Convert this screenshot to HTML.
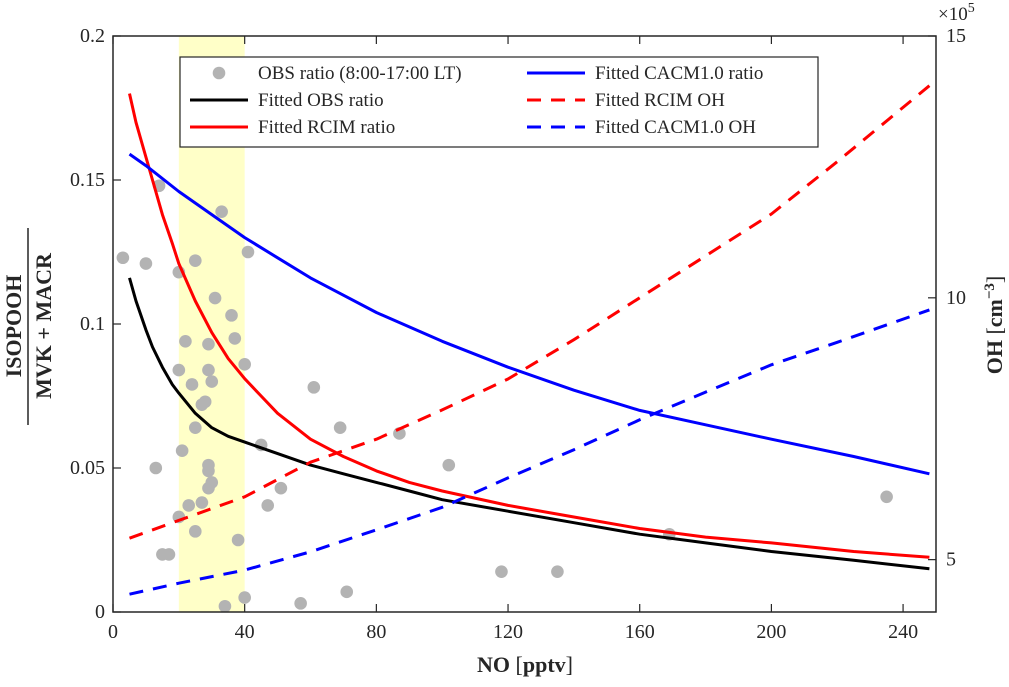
<!DOCTYPE html>
<html><head><meta charset="utf-8"><style>
html,body{margin:0;padding:0;background:#fff;}
svg text{font-family:"Liberation Serif",serif;fill:#262626;}
</style></head><body>
<svg id="chart" width="1009" height="682" viewBox="0 0 1009 682" xmlns="http://www.w3.org/2000/svg">
<g id="plot"></g>
</svg>
<script>
const noCats=[3,10,14,20,25,33,41,31,36,37,22,29,40,20,29,24,30,28,27,61,25,69,87,45,21,13,29,29,30,29,51,47,102,23,27,20,25,38,15,17,169,235,118,135,71,57,34,40];
const obsRatio=[0.123,0.121,0.148,0.118,0.122,0.139,0.125,0.109,0.103,0.095,0.094,0.093,0.086,0.084,0.084,0.079,0.080,0.073,0.072,0.078,0.064,0.064,0.062,0.058,0.056,0.050,0.051,0.049,0.045,0.043,0.043,0.037,0.051,0.037,0.038,0.033,0.028,0.025,0.020,0.020,0.027,0.040,0.014,0.014,0.007,0.003,0.002,0.005];
const fitObsX=[5,7,10,12,15,18,20,25,30,35,40,50,60,70,80,90,100,120,140,160,180,200,225,248];
const fitObsY=[0.116,0.108,0.098,0.092,0.085,0.079,0.076,0.069,0.064,0.061,0.059,0.055,0.051,0.048,0.045,0.042,0.039,0.035,0.031,0.027,0.024,0.021,0.018,0.015];
const fitRcimX=[5,7,10,12,15,18,20,25,30,35,40,45,50,60,70,80,90,100,120,140,160,180,200,225,248];
const fitRcimY=[0.180,0.170,0.158,0.150,0.138,0.128,0.121,0.108,0.097,0.088,0.081,0.075,0.069,0.060,0.054,0.049,0.045,0.042,0.037,0.033,0.029,0.026,0.024,0.021,0.019];
const fitCacmX=[5,10,20,30,40,50,60,70,80,90,100,120,140,160,180,200,225,248];
const fitCacmY=[0.159,0.155,0.146,0.138,0.130,0.123,0.116,0.110,0.104,0.099,0.094,0.085,0.077,0.070,0.065,0.060,0.054,0.048];
const ohX=[5,20,40,60,80,100,120,140,160,180,200,220,248];
const rcimOH=[5.41,5.75,6.2,6.86,7.3,7.86,8.45,9.2,10.0,10.8,11.6,12.6,14.05];
const cacmOH=[4.34,4.55,4.8,5.15,5.57,6.0,6.56,7.1,7.67,8.2,8.72,9.15,9.77];
const xTicks=[0,40,80,120,160,200,240];
const yTicks=[0,0.05,0.1,0.15,0.2];
const yTickLabels=["0","0.05","0.1","0.15","0.2"];
const y2Ticks=[5,10,15];

const L=113,R=936,T=36,B=612;
const xs=v=>L+(v-0)*(R-L)/250;
const ys=v=>B-v*(B-T)/0.2;
const ys2=v=>B-(v-4)*(B-T)/11;
const NS="http://www.w3.org/2000/svg";
const g=document.getElementById('plot');
function mk(tag,attrs,parent){const e=document.createElementNS(NS,tag);for(const k in attrs)e.setAttribute(k,attrs[k]);(parent||g).appendChild(e);return e;}

let e=mk('rect',{x:xs(20),y:T,width:xs(40)-xs(20),height:B-T,fill:'#ffffc8'});



noCats.forEach((n,i)=>{const c=mk('circle',{cx:xs(n),cy:ys(obsRatio[i]),r:6.3,fill:'#b3b3b3'});

});

function line(xa,ya,scale,color,dash,name){
  const p=xa.map((x,i)=>xs(x).toFixed(1)+','+scale(ya[i]).toFixed(1)).join(' ');
  const l=mk('polyline',{points:p,fill:'none',stroke:color,'stroke-width':3,'stroke-linejoin':'round','stroke-dasharray':dash||'none'});
  
  
}
line(fitObsX,fitObsY,ys,'#000',null,'fitted-obs-ratio-line');
line(fitRcimX,fitRcimY,ys,'#f00',null,'fitted-rcim-ratio-line');
line(fitCacmX,fitCacmY,ys,'#00f',null,'fitted-cacm-ratio-line');
line(ohX,rcimOH,ys2,'#f00','14,10','fitted-rcim-oh-line');
line(ohX,cacmOH,ys2,'#00f','14,10','fitted-cacm-oh-line');

e=mk('rect',{x:L,y:T,width:R-L,height:B-T,fill:'none',stroke:'#262626','stroke-width':1.5});



xTicks.forEach(t=>{const x=xs(t);
 mk('line',{x1:x,y1:B,x2:x,y2:B-8,stroke:'#262626','stroke-width':1.2});
 mk('line',{x1:x,y1:T,x2:x,y2:T+8,stroke:'#262626','stroke-width':1.2});
 const tx=mk('text',{x:x,y:B+26,'text-anchor':'middle','font-size':20});tx.textContent=t;
 
 });
yTicks.forEach((t,i)=>{const y=ys(t);
 mk('line',{x1:L,y1:y,x2:L+8,y2:y,stroke:'#262626','stroke-width':1.2});
 const tx=mk('text',{x:L-8,y:y+6,'text-anchor':'end','font-size':20});tx.textContent=yTickLabels[i];
 
 });
y2Ticks.forEach(t=>{const y=ys2(t);
 mk('line',{x1:R,y1:y,x2:R-8,y2:y,stroke:'#262626','stroke-width':1.2});
 const tx=mk('text',{x:R+10,y:y+6,'font-size':20});tx.textContent=t;
 
 });
</script>
<svg style="position:absolute;left:0;top:0" width="1009" height="682">
<text x="525" y="672" text-anchor="middle" font-size="22"><tspan font-weight="bold">NO</tspan> [<tspan font-weight="bold">pptv</tspan>]</text>
<text x="938" y="20" font-size="19">×10<tspan dy="-8" font-size="14">5</tspan></text>
<g>
<text transform="translate(21,326) rotate(-90)" text-anchor="middle" font-size="22" font-weight="bold">ISOPOOH</text>
<line x1="28" y1="228" x2="28" y2="425" stroke="#262626" stroke-width="1.5"/>
<text transform="translate(51,326) rotate(-90)" text-anchor="middle" font-size="22" font-weight="bold">MVK + MACR</text>
</g>
<text transform="translate(1002,325) rotate(-90)" text-anchor="middle" font-size="22"><tspan font-weight="bold">OH</tspan> [<tspan font-weight="bold">cm</tspan><tspan dy="-8" font-size="15" font-weight="bold">−3</tspan><tspan dy="8">]</tspan></text>
<g>
<rect x="180" y="57" width="638" height="90" fill="#fff" stroke="#262626" stroke-width="1.2"/>
<g><circle cx="219" cy="73" r="6.3" fill="#b3b3b3"/><text x="258" y="79" font-size="19">OBS ratio (8:00-17:00 LT)</text></g>
<g><line x1="190" y1="100" x2="248" y2="100" stroke="#000" stroke-width="3"/><text x="258" y="106" font-size="19">Fitted OBS ratio</text></g>
<g><line x1="190" y1="127" x2="248" y2="127" stroke="#f00" stroke-width="3"/><text x="258" y="133" font-size="19">Fitted RCIM ratio</text></g>
<g><line x1="527" y1="73" x2="585" y2="73" stroke="#00f" stroke-width="3"/><text x="595" y="79" font-size="19">Fitted CACM1.0 ratio</text></g>
<g><line x1="527" y1="100" x2="585" y2="100" stroke="#f00" stroke-width="3" stroke-dasharray="14,10"/><text x="595" y="106" font-size="19">Fitted RCIM OH</text></g>
<g><line x1="527" y1="127" x2="585" y2="127" stroke="#00f" stroke-width="3" stroke-dasharray="14,10"/><text x="595" y="133" font-size="19">Fitted CACM1.0 OH</text></g>
</g>
</svg>
</body></html>
